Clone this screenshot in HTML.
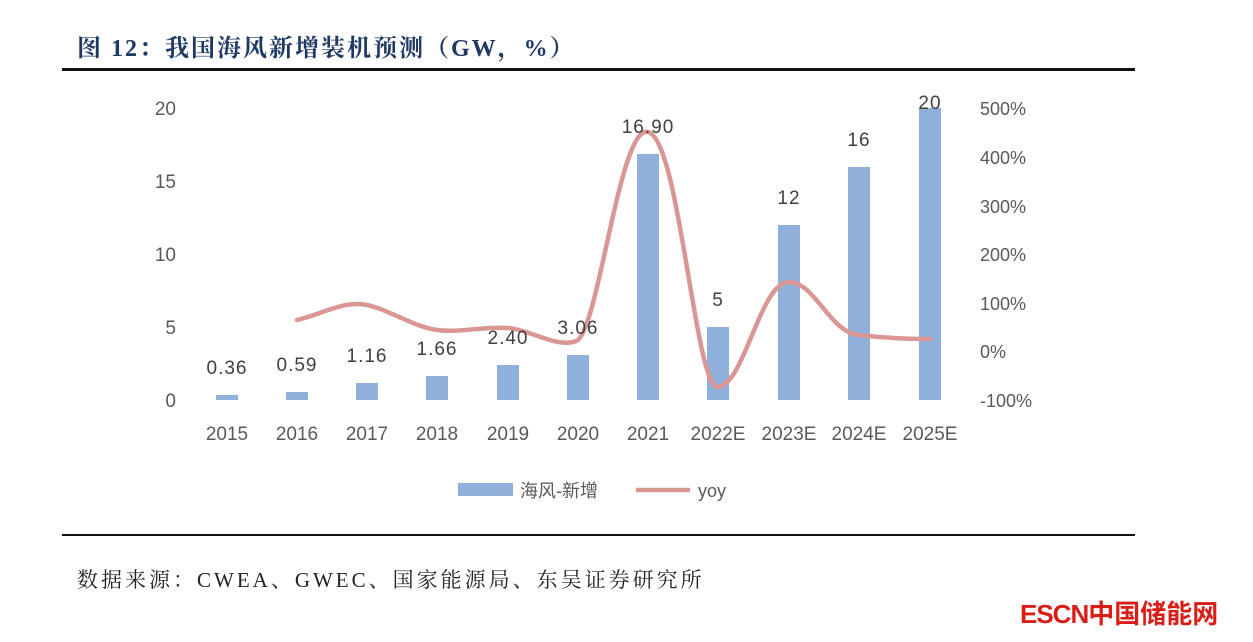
<!DOCTYPE html>
<html><head><meta charset="utf-8"><style>
body{margin:0;background:#fff;width:1253px;height:642px;overflow:hidden;position:relative;font-family:"Liberation Sans","Noto Sans CJK SC",sans-serif}
.t{position:absolute;white-space:nowrap}
</style></head><body>
<div class="t" style="left:77px;top:28px;font-family:'Liberation Serif','Noto Serif CJK SC',serif;font-weight:bold;font-size:24px;letter-spacing:2px;color:#1f3864">图 12：我国海风新增装机预测（GW，%）</div>
<div style="position:absolute;left:62px;top:68px;width:1073px;height:3px;background:#111"></div>
<div style="position:absolute;left:62px;top:534px;width:1073px;height:2px;background:#111"></div>
<div class="t" style="left:77px;top:564px;font-family:'Liberation Serif','Noto Serif CJK SC',serif;font-size:21px;letter-spacing:3px;color:#222">数据来源：CWEA、GWEC、国家能源局、东吴证券研究所</div>
<div class="t" style="left:1020px;top:594px;font-size:26px;font-weight:bold;color:#d91e18;letter-spacing:-1px">ESCN<span style="font-family:'Noto Sans CJK SC',sans-serif;letter-spacing:0">中国储能网</span></div>
<svg width="1253" height="642" style="position:absolute;left:0;top:0" font-family="Liberation Sans, DejaVu Sans, sans-serif">
<g fill="#595959" font-size="19" text-anchor="end">
<text x="176" y="115">20</text><text x="176" y="188">15</text><text x="176" y="261">10</text><text x="176" y="334">5</text><text x="176" y="407">0</text>
</g>
<g fill="#595959" font-size="18" text-anchor="start">
<text x="980" y="115">500%</text><text x="980" y="164">400%</text><text x="980" y="213">300%</text><text x="980" y="261">200%</text><text x="980" y="310">100%</text><text x="980" y="358">0%</text><text x="980" y="407">-100%</text>
</g>
<g fill="#8fb0da">
<rect x="216" y="395" width="22" height="5"/>
<rect x="286" y="392" width="22" height="8"/>
<rect x="356" y="383" width="22" height="17"/>
<rect x="426" y="376" width="22" height="24"/>
<rect x="497" y="365" width="22" height="35"/>
<rect x="567" y="355" width="22" height="45"/>
<rect x="637" y="154" width="22" height="246"/>
<rect x="707" y="327" width="22" height="73"/>
<rect x="778" y="225" width="22" height="175"/>
<rect x="848" y="167" width="22" height="233"/>
<rect x="919" y="108" width="22" height="292"/>
</g>
<path d="M297,320 C320,315 344,300 367,305 C390,310 414,327 437,330 C460,333 485,326 508,328 C531,330 560,350 578,340 C600,320 620,125 648,132 C680,140 695,390 718,387 C745,384 760,282 789,282 C815,282 830,333 859,335 C885,338 910,339 930,339" fill="none" stroke="#d99694" stroke-width="4.5" stroke-linecap="round"/>
<g fill="#404040" font-size="19" text-anchor="middle" letter-spacing="1">
<text x="227" y="374">0.36</text><text x="297" y="371">0.59</text><text x="367" y="362">1.16</text><text x="437" y="355">1.66</text><text x="508" y="344">2.40</text><text x="578" y="334">3.06</text><text x="648" y="133">16.90</text><text x="718" y="306">5</text><text x="789" y="204">12</text><text x="859" y="146">16</text><text x="930" y="109">20</text>
</g>
<g fill="#595959" font-size="19" text-anchor="middle">
<text x="227" y="440">2015</text><text x="297" y="440">2016</text><text x="367" y="440">2017</text><text x="437" y="440">2018</text><text x="508" y="440">2019</text><text x="578" y="440">2020</text><text x="648" y="440">2021</text><text x="718" y="440">2022E</text><text x="789" y="440">2023E</text><text x="859" y="440">2024E</text><text x="930" y="440">2025E</text>
</g>
<rect x="458" y="483" width="55" height="13" fill="#8fb0da"/>
<text x="520" y="497" fill="#595959" font-size="18" font-family="Liberation Sans, Noto Sans CJK SC, sans-serif">海风-新增</text>
<line x1="636" y1="490" x2="690" y2="490" stroke="#d99694" stroke-width="4.5"/>
<text x="698" y="497" fill="#595959" font-size="18">yoy</text>
</svg>
</body></html>
